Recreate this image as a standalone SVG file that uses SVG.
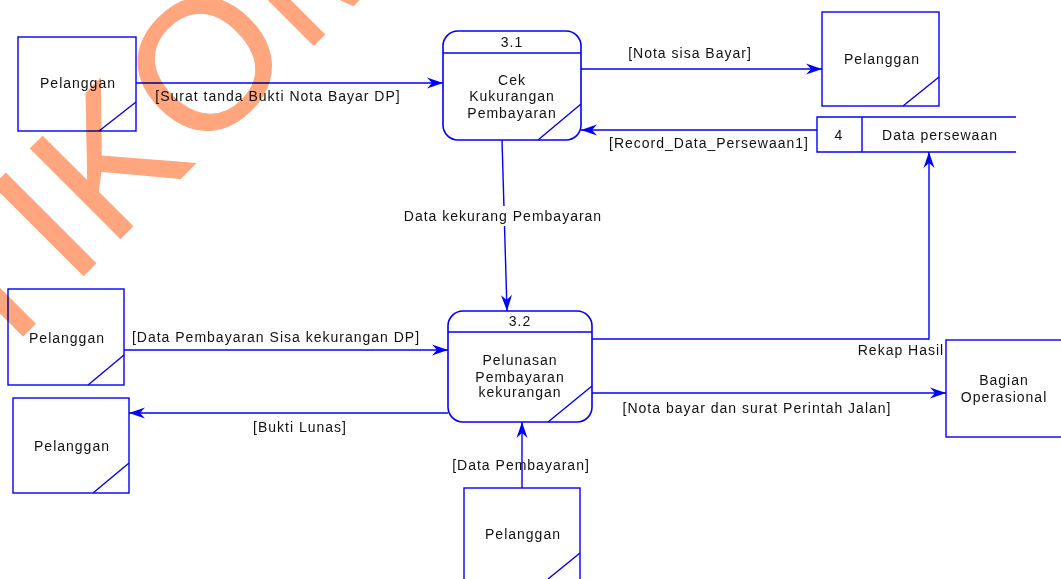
<svg xmlns="http://www.w3.org/2000/svg" width="1061" height="579" viewBox="0 0 1061 579">
  <defs>
    <marker id="arrow" markerUnits="userSpaceOnUse" markerWidth="20" markerHeight="14" viewBox="-17 -7 18 14" refX="0" refY="0" orient="auto">
      <path d="M0,0 L-16,-5.5 L-11,0 L-16,5.5 Z" fill="#0000FF"/>
    </marker>
    <style>
      .box { fill: #FFFFFF; stroke: #0000FF; stroke-width: 1.4; }
      .proc { fill: #FFFFFF; stroke: #0000FF; stroke-width: 1.6; }
      .edge { fill: none; stroke: #0000FF; stroke-width: 1.4; }
      .flow { fill: none; stroke: #0000FF; stroke-width: 1.4; marker-end: url(#arrow); }
      .t { font-family: "Liberation Sans", Arial, sans-serif; font-size: 14px; letter-spacing: 1px; fill: #111111; text-anchor: middle; }
      .lbl { font-family: "Liberation Sans", Arial, sans-serif; font-size: 14px; letter-spacing: 1px; fill: #111111; text-anchor: middle; }
      .wm { font-family: "Liberation Sans", Arial, sans-serif; font-size: 185px; letter-spacing: 3px; fill: #FFA67E; stroke: #FFA67E; stroke-width: 1; mix-blend-mode: multiply; }
    </style>
  </defs>

  <rect width="1061" height="579" fill="#FFFFFF"/>

  <!-- connectors -->
  <g id="connectors">
    <path class="flow" d="M136,83 H443"/>
    <path class="flow" d="M581,69 H822"/>
    <path class="flow" d="M817,130 H581"/>
    <path class="flow" d="M502,140 L507,311"/>
    <path class="flow" d="M592,339 H929 V152"/>
    <path class="flow" d="M124,350 H448"/>
    <path class="flow" d="M592,393 H946"/>
    <path class="flow" d="M448,413 H129"/>
    <path class="flow" d="M522,488 V422"/>

    <text class="lbl" x="278" y="101">[Surat tanda Bukti Nota Bayar DP]</text>
    <text class="lbl" x="690" y="58">[Nota sisa Bayar]</text>
    <text class="lbl" x="709" y="148">[Record_Data_Persewaan1]</text>
    <rect x="400" y="206" width="204" height="20" fill="#FFFFFF"/>
    <text class="lbl" x="503" y="221">Data kekurang Pembayaran</text>
    <text class="lbl" x="901" y="355">Rekap Hasil</text>
    <text class="lbl" x="276" y="342">[Data Pembayaran Sisa kekurangan DP]</text>
    <text class="lbl" x="757" y="413">[Nota bayar dan surat Perintah Jalan]</text>
    <text class="lbl" x="300" y="432">[Bukti Lunas]</text>
    <text class="lbl" x="521" y="470">[Data Pembayaran]</text>
  </g>

  <!-- external entities -->
  <g id="pelanggan-1">
    <rect class="box" x="18" y="37" width="118" height="94"/>
    <path class="edge" d="M99,131 L136,102"/>
    <text class="t" x="78" y="88">Pelanggan</text>
  </g>
  <g id="pelanggan-2">
    <rect class="box" x="822" y="12" width="117" height="94"/>
    <path class="edge" d="M903,106 L939,77"/>
    <text class="t" x="882" y="64">Pelanggan</text>
  </g>
  <g id="pelanggan-3">
    <rect class="box" x="8" y="289" width="116" height="96"/>
    <path class="edge" d="M88,385 L124,355"/>
    <text class="t" x="67" y="343">Pelanggan</text>
  </g>
  <g id="pelanggan-4">
    <rect class="box" x="13" y="398" width="116" height="95"/>
    <path class="edge" d="M93,493 L129,463"/>
    <text class="t" x="72" y="451">Pelanggan</text>
  </g>
  <g id="pelanggan-5">
    <rect class="box" x="464" y="488" width="116" height="96"/>
    <path class="edge" d="M548,579 L580,553"/>
    <text class="t" x="523" y="539">Pelanggan</text>
  </g>
  <g id="bagian-operasional">
    <rect class="box" x="946" y="340" width="116" height="97"/>
    <text class="t" x="1004" y="385">Bagian</text>
    <text class="t" x="1004" y="402">Operasional</text>
  </g>

  <!-- data store -->
  <g id="store-4">
    <path class="edge" d="M1016,117 H817 V152 H1016 M862,117 V152"/>
    <text class="t" x="839" y="140">4</text>
    <text class="t" x="940" y="140">Data persewaan</text>
  </g>

  <!-- processes -->
  <g id="proc-3-1">
    <rect class="proc" x="443" y="31" width="138" height="109" rx="15" ry="15"/>
    <path class="edge" d="M443,53 H581 M538,140 L581,104"/>
    <text class="t" x="512" y="47">3.1</text>
    <text class="t" x="512" y="85">Cek</text>
    <text class="t" x="512" y="101">Kukurangan</text>
    <text class="t" x="512" y="118">Pembayaran</text>
  </g>
  <g id="proc-3-2">
    <rect class="proc" x="448" y="311" width="144" height="111" rx="15" ry="15"/>
    <path class="edge" d="M448,332 H592 M548,422 L592,386"/>
    <text class="t" x="520" y="326">3.2</text>
    <text class="t" x="520" y="365">Pelunasan</text>
    <text class="t" x="520" y="382">Pembayaran</text>
    <text class="t" x="520" y="397">kekurangan</text>
  </g>

  <!-- watermark -->
  <text class="wm" transform="translate(-100,459) rotate(-45)">STIKOM</text>
</svg>
